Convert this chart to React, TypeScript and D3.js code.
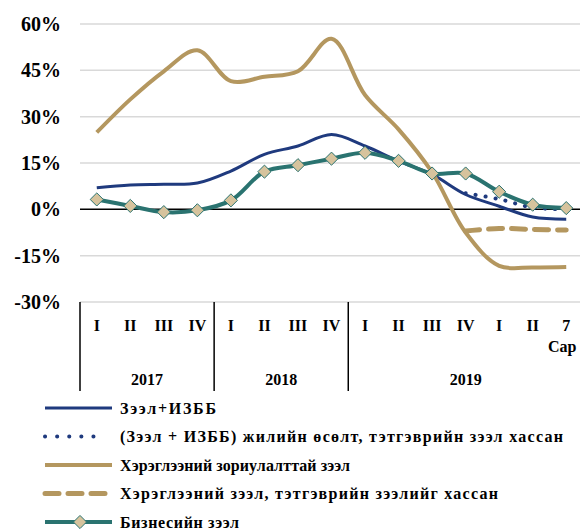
import React from 'react';
import * as d3 from 'd3';

// quarters (last point is month 7)
const categories = ['I', 'II', 'III', 'IV', 'I', 'II', 'III', 'IV', 'I', 'II', 'III', 'IV', 'I', 'II', '7'];
const years = [
  { label: '2017', from: 0, to: 4 },
  { label: '2018', from: 4, to: 8 },
  { label: '2019', from: 8, to: 15 },
];
const yTicks = [-30, -15, 0, 15, 30, 45, 60];

const loansTotal = [7.0, 7.9, 8.1, 8.5, 12.4, 17.8, 20.5, 24.2, 20.5, 15.6, 11.3, 4.8, 1.0, -2.5, -3.2];
const loansExPension = [null, null, null, null, null, null, null, null, null, null, null, 5.2, 3.3, 0.6, 0.0];
const consumer = [24.9, 35.6, 44.7, 51.5, 41.5, 42.9, 44.7, 55.2, 37.0, 25.9, 12.0, -7.5, -18.3, -18.8, -18.7];
const consumerExPension = [null, null, null, null, null, null, null, null, null, null, null, -7.0, -6.2, -6.5, -6.7];
const business = [3.2, 1.1, -0.9, -0.3, 2.9, 12.2, 14.3, 16.4, 18.3, 15.7, 11.6, 11.6, 5.7, 1.5, 0.4];

const BLUE = '#1f3a7e';
const GOLD = '#b4975f';
const TEAL = '#2a7370';
const DIAMOND = '#d6c39d';
const FONT = '"Liberation Serif", "Times New Roman", serif';

const series = [
  { name: 'Зээл+ИЗББ', values: loansTotal, color: BLUE, width: 3, dash: null, dots: false, marker: false },
  { name: '(Зээл + ИЗББ) жилийн өсөлт, тэтгэврийн зээл хассан', values: loansExPension, color: BLUE, width: 4, dash: '0.1 10', dots: true, marker: false },
  { name: 'Хэрэглээний зориулалттай зээл', values: consumer, color: GOLD, width: 4, dash: null, dots: false, marker: false },
  { name: 'Хэрэглээний зээл, тэтгэврийн зээлийг хассан', values: consumerExPension, color: GOLD, width: 5, dash: '14 9', dots: false, marker: false },
  { name: 'Бизнесийн зээл', values: business, color: TEAL, width: 4, dash: null, dots: false, marker: true },
];

const App = () => {
  const width = 580;
  const height = 529;
  const x = d3.scaleBand<number>().domain(d3.range(categories.length)).range([80, 583]).padding(0);
  const cx = (i: number) => (x(i) as number) + x.bandwidth() / 2;
  const y = d3.scaleLinear().domain([-30, 60]).range([302, 24]);

  const line = d3.line<number | null>()
    .defined(d => d !== null)
    .x((_, i) => cx(i))
    .y(d => y(d as number))
    .curve(d3.curveCatmullRom.alpha(0.5));

  const diamond = d3.symbol().type(d3.symbolDiamond2).size(110)();
  // legend text widths as seen in the original
  const legendTextWidth = [96, 443, 230, 378, 119];

  return (
    <svg width={width} height={height} style={{ position: 'absolute', left: 0, top: 0, background: '#fff' }}>
      {/* grid + y labels */}
      {yTicks.map(t => (
        <g key={t}>
          {t !== 0 && <line x1={80} x2={width} y1={y(t)} y2={y(t)} stroke="#d9d9d9" strokeWidth={1.5} />}
          <text x={61} y={y(t)} dy="0.35em" textAnchor="end" fontFamily={FONT} fontWeight="bold" fontSize={20}>
            {t}%
          </text>
        </g>
      ))}
      <line x1={80} x2={width} y1={y(0)} y2={y(0)} stroke="#000" strokeWidth={1.5} />

      {/* category axis */}
      {years.map(g => (
        <g key={g.label}>
          <line x1={x(g.from)} x2={x(g.from)} y1={302} y2={391} stroke="#000" strokeWidth={1.5} />
          <text
            x={((x(g.from) as number) + (g.to < categories.length ? (x(g.to) as number) : 583)) / 2}
            y={385}
            textAnchor="middle"
            fontFamily={FONT}
            fontWeight="bold"
            fontSize={16}
          >
            {g.label}
          </text>
        </g>
      ))}
      {categories.map((c, i) => (
        <text key={i} x={cx(i)} y={331} textAnchor="middle" fontFamily={FONT} fontWeight="bold" fontSize={16}>
          {c}
        </text>
      ))}
      <text x={548} y={352} fontFamily={FONT} fontWeight="bold" fontSize={16}>Сар</text>

      {/* lines */}
      {series.map(s => (
        <path
          key={s.name}
          d={line(s.values) || ''}
          fill="none"
          stroke={s.color}
          strokeWidth={s.width}
          strokeDasharray={s.dash || undefined}
          strokeLinecap={s.dots || s.dash ? 'round' : 'butt'}
        />
      ))}
      {business.map((v, i) => (
        <path key={i} d={diamond || ''} transform={`translate(${cx(i)},${y(v)})`} fill={DIAMOND} stroke={TEAL} strokeWidth={1} />
      ))}

      {/* legend */}
      {series.map((s, i) => {
        const ly = 408 + i * 28.5;
        return (
          <g key={s.name} transform={`translate(0,${ly})`}>
            {s.dots ? (
              <line x1={45} x2={105} y1={0} y2={0} stroke={s.color} strokeWidth={4} strokeDasharray="0.1 12" strokeLinecap="round" />
            ) : (
              <line x1={45} x2={112} y1={0} y2={0} stroke={s.color} strokeWidth={s.width}
                strokeDasharray={s.dash ? '14 9' : undefined} strokeLinecap={s.dash ? 'round' : 'butt'} />
            )}
            {s.marker && <path d={diamond || ''} transform="translate(80,0)" fill={DIAMOND} stroke={TEAL} strokeWidth={1} />}
            <text x={120} y={0} dy="0.35em" fontFamily={FONT} fontWeight="bold" fontSize={16}
              textLength={legendTextWidth[i]} lengthAdjust="spacing">
              {s.name}
            </text>
          </g>
        );
      })}
    </svg>
  );
};

export default App;
